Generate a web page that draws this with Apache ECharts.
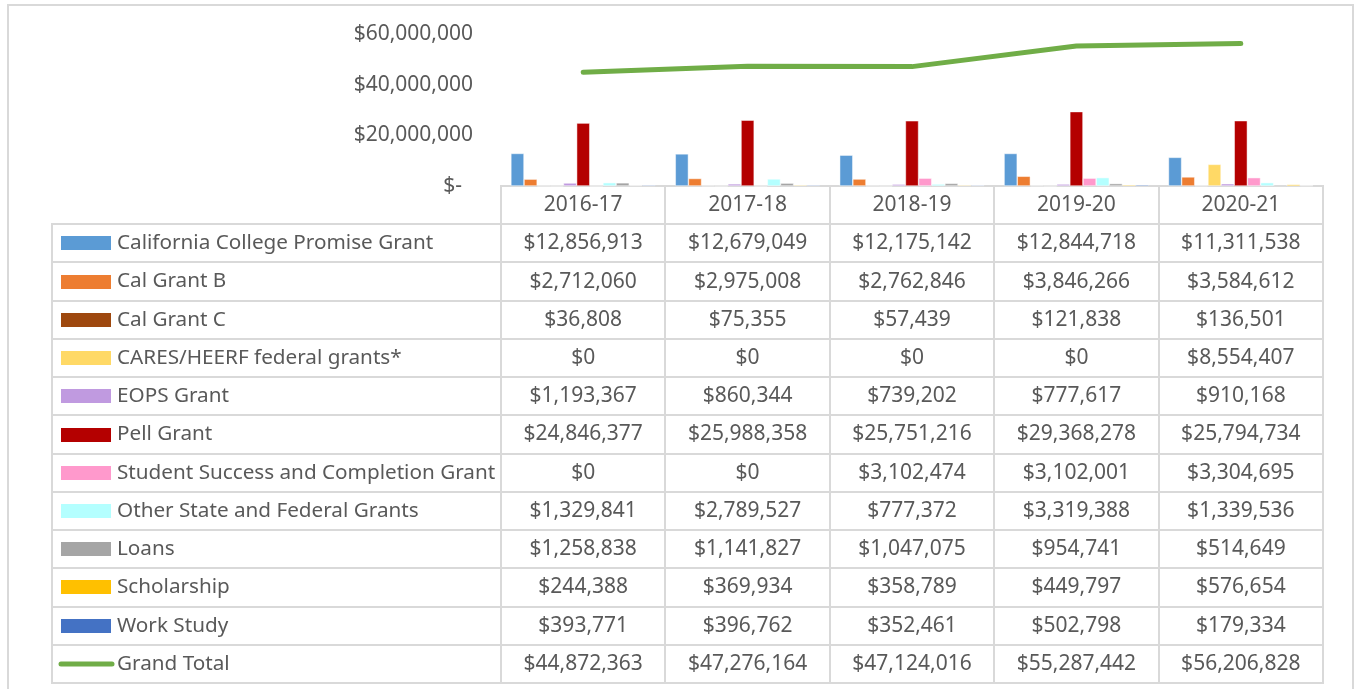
<!DOCTYPE html>
<html><head><meta charset="utf-8">
<script src="https://cdn.jsdelivr.net/npm/echarts@6/dist/echarts.min.js"></script>
<style>html,body{margin:0;padding:0;background:#fff}#c{width:1356px;height:689px}</style>
</head><body><div id="c"></div>
<script>
const years = ['2016-17', '2017-18', '2018-19', '2019-20', '2020-21'];
const barNames = ['California College Promise Grant', 'Cal Grant B', 'Cal Grant C', 'CARES/HEERF federal grants*', 'EOPS Grant', 'Pell Grant', 'Student Success and Completion Grant', 'Other State and Federal Grants', 'Loans', 'Scholarship', 'Work Study'];
const totalName = 'Grand Total';
const ccpg = [12856913, 12679049, 12175142, 12844718, 11311538];
const calGrantB = [2712060, 2975008, 2762846, 3846266, 3584612];
const calGrantC = [36808, 75355, 57439, 121838, 136501];
const cares = [0, 0, 0, 0, 8554407];
const eops = [1193367, 860344, 739202, 777617, 910168];
const pell = [24846377, 25988358, 25751216, 29368278, 25794734];
const sscg = [0, 0, 3102474, 3102001, 3304695];
const otherGrants = [1329841, 2789527, 777372, 3319388, 1339536];
const loans = [1258838, 1141827, 1047075, 954741, 514649];
const scholarship = [244388, 369934, 358789, 449797, 576654];
const workStudy = [393771, 396762, 352461, 502798, 179334];
const grandTotal = [44872363, 47276164, 47124016, 55287442, 56206828];
const yTicks = [0, 20000000, 40000000, 60000000];
const barColors = ['#5b9bd5', '#ed7d31', '#9e480e', '#ffd966', '#c09ae0', '#b40000', '#ff99cc', '#b4ffff', '#a5a5a5', '#ffc000', '#4472c4'];
const totalColor = '#70ad47';

const barValues = [ccpg, calGrantB, calGrantC, cares, eops, pell, sscg, otherGrants, loans, scholarship, workStudy];
const rowNames = barNames.concat([totalName]);
const rowValues = barValues.concat([grandTotal]);
const rowColors = barColors.concat([totalColor]);
const tableRows = ['header'].concat(rowNames);

const FONT = '"Noto Sans", sans-serif';
const TXT = '#595959';
const LINE = '#d9d9d9';

function money(v) {
  return '$' + String(v).replace(/\B(?=(\d{3})+(?!\d))/g, ',');
}

const cellData = [], cellText = [];
years.forEach((y, i) => {
  cellData.push([i, 0]); cellText.push(y);
  rowValues.forEach((arr, j) => { cellData.push([i, j + 1]); cellText.push(money(arr[i])); });
});
const nameData = rowNames.map((n, j) => [0, j + 1]);

function cellRect(api, xi, yi) {
  const c = api.coord([xi, yi]);
  const s = api.size([1, 1]);
  const x0 = Math.round(c[0] - s[0] / 2), y0 = Math.round(c[1] - s[1] / 2);
  const x1 = Math.round(c[0] + s[0] / 2), y1 = Math.round(c[1] + s[1] / 2);
  return {c, x0, y0, x1, y1};
}

const series = barValues.map((arr, k) => ({
  name: barNames[k], type: 'bar', xAxisIndex: 0, yAxisIndex: 0,
  data: arr, barGap: '0%', barCategoryGap: '12%',
  itemStyle: {color: barColors[k], borderColor: 'rgba(255,255,255,0.8)', borderWidth: 0.6},
  animation: false
}));
series.push({
  name: totalName, type: 'line', xAxisIndex: 0, yAxisIndex: 0, data: grandTotal,
  symbol: 'none', lineStyle: {color: totalColor, width: 5, cap: 'round', join: 'round'},
  itemStyle: {color: totalColor}, z: 5, animation: false
});
series.push({
  type: 'custom', xAxisIndex: 1, yAxisIndex: 1, data: cellData, animation: false, silent: true,
  renderItem(params, api) {
    const r = cellRect(api, api.value(0), api.value(1));
    return {type: 'group', children: [
      {type: 'rect', shape: {x: r.x0, y: r.y0, width: r.x1 - r.x0, height: r.y1 - r.y0},
       style: {fill: 'none', stroke: LINE, lineWidth: 2}},
      {type: 'text', style: {text: cellText[params.dataIndex], x: r.c[0], y: r.c[1],
       align: 'center', verticalAlign: 'middle', fill: TXT, font: '21px ' + FONT}}
    ]};
  }
});
series.push({
  type: 'custom', xAxisIndex: 2, yAxisIndex: 2, data: nameData, animation: false, silent: true,
  renderItem(params, api) {
    const j = params.dataIndex;
    const r = cellRect(api, api.value(0), api.value(1));
    const cy = Math.round(r.c[1]);
    const isLine = j === rowNames.length - 1;
    const swatch = isLine
      ? {type: 'line', shape: {x1: r.x0 + 9, y1: cy, x2: r.x0 + 60, y2: cy},
         style: {stroke: rowColors[j], lineWidth: 5, lineCap: 'round'}}
      : {type: 'rect', shape: {x: r.x0 + 9, y: cy - 7, width: 50, height: 14},
         style: {fill: rowColors[j]}};
    return {type: 'group', children: [
      {type: 'rect', shape: {x: r.x0, y: r.y0, width: r.x1 - r.x0, height: r.y1 - r.y0},
       style: {fill: 'none', stroke: LINE, lineWidth: 2}},
      swatch,
      {type: 'text', style: {text: rowNames[j], x: r.x0 + 65, y: r.c[1],
       align: 'left', verticalAlign: 'middle', fill: TXT, font: '20.7px ' + FONT}}
    ]};
  }
});

const chart = echarts.init(document.getElementById('c'), null, {renderer: 'canvas'});
chart.setOption({
  backgroundColor: '#fff',
  animation: false,
  graphic: [{type: 'rect', shape: {x: 8, y: 5, width: 1345, height: 700},
    style: {fill: 'none', stroke: LINE, lineWidth: 2}, silent: true}],
  grid: [
    {left: 501, right: 33, top: 34, height: 152},
    {left: 501, right: 33, top: 186, bottom: 6},
    {left: 52, width: 449, top: 186, bottom: 6}
  ],
  xAxis: [
    {type: 'category', gridIndex: 0, data: years, boundaryGap: true,
     axisLine: {show: false}, axisTick: {show: false}, axisLabel: {show: false}},
    {type: 'category', gridIndex: 1, data: years, show: false},
    {type: 'category', gridIndex: 2, data: ['name'], show: false}
  ],
  yAxis: [
    {type: 'value', gridIndex: 0, min: yTicks[0], max: yTicks[yTicks.length - 1], interval: yTicks[1] - yTicks[0],
     splitLine: {show: false}, axisLine: {show: false}, axisTick: {show: false},
     axisLabel: {margin: 28, color: TXT, fontSize: 21, fontFamily: 'Noto Sans',
       formatter: v => v === 0 ? '$-  ' : money(v)}},
    {type: 'category', gridIndex: 1, data: tableRows, inverse: true, show: false},
    {type: 'category', gridIndex: 2, data: tableRows, inverse: true, show: false}
  ],
  series
});
</script></body></html>
